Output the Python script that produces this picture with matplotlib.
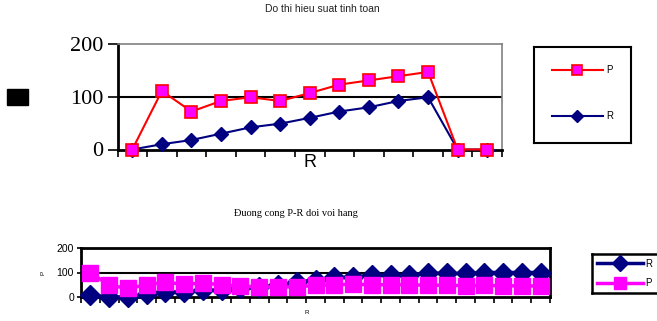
import numpy as np
import matplotlib
matplotlib.use('Agg')
import matplotlib.pyplot as plt
from matplotlib.patches import Rectangle

# ---- top chart data ----
top_title = 'Do thi hieu suat tinh toan'
top_p = [0, 111, 72, 92, 99, 92, 107, 123, 131, 139, 147, 0, 0]
top_r = [0, 10, 18, 30, 42, 49, 60, 72, 80, 92, 99, 0, 0]
top_yticks = [0, 100, 200]

# ---- bottom chart data ----
bot_title = 'Đuong cong P-R doi voi hang'
bot_r = [8, 0, 0, 12, 20, 20, 27, 28, 35, 40, 48, 60, 70, 80, 80,
         90, 88, 88, 98, 96, 96, 100, 100, 100, 100]
bot_p = [100, 48, 35, 50, 60, 52, 57, 50, 44, 42, 40, 42, 47, 50, 52,
         50, 50, 50, 48, 48, 46, 47, 46, 45, 45]
bot_yticks = [0, 100, 200]

W, H = 657, 321
fig = plt.figure(figsize=(W / 100, H / 100), dpi=100)


def fx(px):
    return px / W


def fy(py):
    return 1 - py / H


def frame_box(x0, y0, x1, y1, lw):
    # empty axes used as the legend border
    fa = fig.add_axes([fx(x0), fy(y1), fx(x1) - fx(x0), fy(y0) - fy(y1)])
    fa.set_xticks([])
    fa.set_yticks([])
    fa.patch.set_alpha(0)
    for s in fa.spines.values():
        s.set_linewidth(lw)
        s.set_color('black')
    return fa


#########上图#########
ax = fig.add_axes([fx(117.5), fy(149.5), fx(502) - fx(117.5), fy(44) - fy(149.5)])
x = np.arange(len(top_p))
ax.plot(x, top_r, color='#000080', lw=1.5, marker='D', ms=7.5,
        mfc='#000080', mec='#000080', label='R', clip_on=False, zorder=3)
ax.plot(x, top_p, color='#FF0000', lw=1.5, marker='s', ms=9,
        mfc='#FF00FF', mec='#FF0000', mew=1.2, label='P', clip_on=False, zorder=4)
ax.set_xlim(-0.5, len(top_p) - 0.5)
ax.set_ylim(0, 200)
ax.axhline(100, color='black', lw=1.5, zorder=1)
ax.set_yticks(top_yticks)
ax.set_yticklabels([str(v) for v in top_yticks], family='Liberation Serif', fontsize=16)
ax.set_xticks(np.arange(-0.5, len(top_p), 1))
ax.set_xticklabels([])
ax.tick_params(axis='x', direction='out', length=5, width=1.2)
ax.tick_params(axis='y', direction='out', length=7, width=1.2, pad=3)
for s in ['left', 'bottom']:
    ax.spines[s].set_linewidth(2)
    ax.spines[s].set_color('black')
for s in ['top', 'right']:
    ax.spines[s].set_linewidth(1.2)
    ax.spines[s].set_color('#808080')
ax.set_xlabel('R', family='Liberation Sans', fontsize=13, labelpad=-5)

frame_box(534, 47, 631, 143, 1.5)
h, l = ax.get_legend_handles_labels()
leg = fig.legend(h[::-1], l[::-1], loc='center left', bbox_to_anchor=(fx(552), fy(93)),
                 prop={'family': 'Liberation Sans', 'size': 7}, handlelength=5.2,
                 handletextpad=0.4, labelspacing=3.7, frameon=False,
                 borderpad=0, borderaxespad=0)
for ln in leg.get_lines():
    ln.set_markersize(6.5)
fig.text(fx(322), fy(8.5), top_title, ha='center', va='center',
         family='Liberation Sans', fontsize=7.5, color='#222222')
# missing-glyph y label of the original
fig.add_artist(Rectangle((fx(7), fy(105)), fx(28) - fx(7), fy(89) - fy(105),
                         transform=fig.transFigure, color='black'))

#########下图#########
bx = fig.add_axes([fx(81), fy(297), fx(550) - fx(81), fy(248) - fy(297)])
x2 = np.arange(len(bot_p))
bx.plot(x2, bot_r, color='#000080', lw=2.5, marker='D', ms=10,
        mfc='#000080', mec='#000080', label='R', clip_on=False, zorder=3)
bx.plot(x2, bot_p, color='#FF00FF', lw=2.5, marker='s', ms=12,
        mfc='#FF00FF', mec='#FF00FF', label='P', clip_on=False, zorder=4)
bx.set_xlim(-0.5, len(bot_p) - 0.5)
bx.set_ylim(0, 200)
bx.axhline(100, color='black', lw=1.5, zorder=1)
bx.set_yticks(bot_yticks)
bx.set_yticklabels([str(v) for v in bot_yticks], family='Liberation Sans', fontsize=7.5)
bx.set_xticks(np.arange(-0.5, len(bot_p), 1))
bx.set_xticklabels([])
bx.tick_params(axis='x', direction='out', length=4, width=1.2)
bx.tick_params(axis='y', direction='out', length=3, width=1.2, pad=2)
for s in bx.spines.values():
    s.set_linewidth(2)
    s.set_color('black')
fig.text(fx(307), fy(313), 'R', ha='center', va='center',
         family='Liberation Sans', fontsize=4.5)
fig.text(fx(43), fy(273), 'P', ha='center', va='center', rotation=90,
         family='Liberation Sans', fontsize=4.5)

frame_box(592, 254, 662, 293, 1.8)
h2, l2 = bx.get_legend_handles_labels()
leg2 = fig.legend(h2, l2, loc='center left', bbox_to_anchor=(fx(597), fy(273.5)),
                  prop={'family': 'Liberation Sans', 'size': 7}, handlelength=4.7,
                  labelspacing=1.0, frameon=False, borderpad=0, handletextpad=0.3,
                  borderaxespad=0)
for ln in leg2.get_lines():
    ln.set_markersize(8)
fig.text(fx(296), fy(213), bot_title, ha='center', va='center',
         family='Liberation Serif', fontsize=7.5)

fig.savefig('out.png', dpi=100)
